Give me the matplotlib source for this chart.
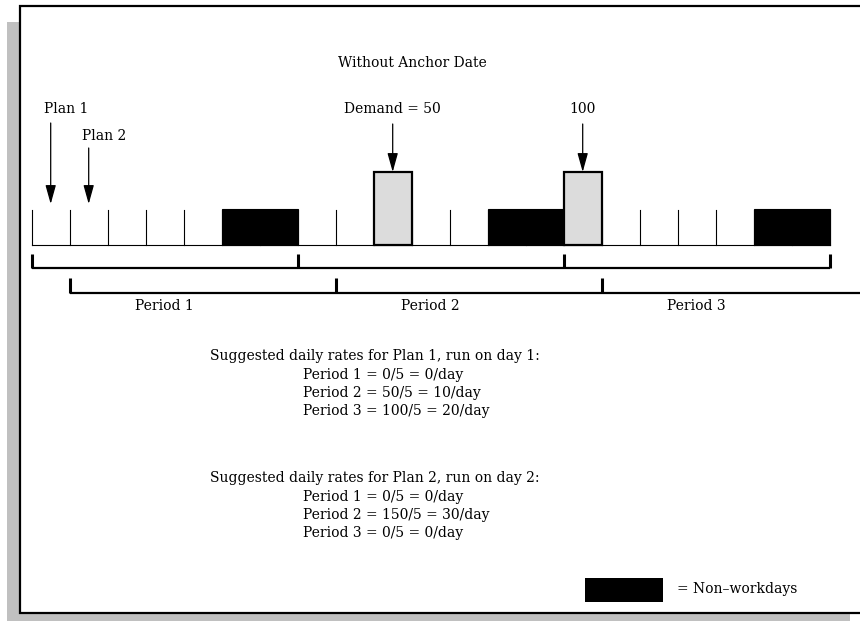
import matplotlib.pyplot as plt
from matplotlib.patches import Rectangle

# ---------- data ----------
n_days = 21
nonwork_start = [5, 12, 19]          # each block = 2 days
nonwork_len = 2
demand_days = [9, 14]
demand_labels = ["Demand = 50", "100"]
plan_days = [0, 1]
plan_labels = ["Plan 1", "Plan 2"]
plan1_bounds = [0, 7, 14, 21]
plan2_bounds = [1, 8, 15, 22.5]
period_names = ["Period 1", "Period 2", "Period 3"]

rates_plan1 = ["Period 1 = 0/5 = 0/day",
               "Period 2 = 50/5 = 10/day",
               "Period 3 = 100/5 = 20/day"]
rates_plan2 = ["Period 1 = 0/5 = 0/day",
               "Period 2 = 150/5 = 30/day",
               "Period 3 = 0/5 = 0/day"]

plt.rcParams['font.family'] = ['DejaVu Serif']
fs = 10

W, H = 860, 621
fig = plt.figure(figsize=(W / 100, H / 100), dpi=100)

# background axes in pixel units: frame, shadow, text
bg = fig.add_axes([0, 0, 1, 1])
bg.set_xlim(0, W)
bg.set_ylim(H, 0)
bg.axis('off')
bg.add_patch(Rectangle((7, 22), 843, 599, facecolor='#c0c0c0', edgecolor='none'))
bg.add_patch(Rectangle((20, 6), 850, 607, facecolor='white', edgecolor='black', lw=1.6))

bg.text(412, 63, "Without Anchor Date", ha='center', va='center', fontsize=fs)

# timeline axes: x in days
day_px = 38.0
x0 = 31.7
ax = fig.add_axes([0, 0, 1, 1])
ax.set_xlim(-x0 / day_px, (W - x0) / day_px)
ax.set_ylim(H, 0)
ax.axis('off')
ax.patch.set_alpha(0)

base_y = 245
ax.plot([0, n_days], [base_y, base_y], color='black', lw=0.8)
for d in range(n_days + 1):
    ax.plot([d, d], [base_y, base_y - 35], color='black', lw=0.8)

for s in nonwork_start:
    ax.add_patch(Rectangle((s, base_y - 36), nonwork_len, 36,
                           facecolor='black', edgecolor='black', lw=0.8, zorder=3))

for d, lab in zip(demand_days, demand_labels):
    ax.add_patch(Rectangle((d, base_y - 73), 1, 73,
                           facecolor='#dcdcdc', edgecolor='black', lw=1.6, zorder=4))
    ax.annotate('', xy=(d + 0.5, base_y - 73), xytext=(d + 0.5, 124),
                arrowprops=dict(arrowstyle='-|>,head_length=1.15,head_width=0.32',
                                color='black', lw=0.9, shrinkA=0, shrinkB=0))
    ax.text(d + 0.5, 109, lab, ha='center', va='center', fontsize=fs)

plan_top = [123, 148]
plan_label_y = [109, 136]
for d, lab, top, ly in zip(plan_days, plan_labels, plan_top, plan_label_y):
    ax.annotate('', xy=(d + 0.5, 204), xytext=(d + 0.5, top),
                arrowprops=dict(arrowstyle='-|>,head_length=1.15,head_width=0.32',
                                color='black', lw=0.9, shrinkA=0, shrinkB=0))
    ax.text(d + 0.9, ly, lab, ha='center', va='center', fontsize=fs)

# period brackets
def bracket(bounds, y, h):
    ax.plot([bounds[0], bounds[-1]], [y, y], color='black', lw=1.6,
            solid_capstyle='butt')
    for b in bounds:
        if b <= n_days + 1:
            ax.plot([b, b], [y, y - h], color='black', lw=2.2, solid_capstyle='butt')

bracket(plan1_bounds, 268, 14)
bracket(plan2_bounds, 293, 15)

for i, name in enumerate(period_names):
    mid = (plan1_bounds[i] + plan1_bounds[i + 1]) / 2
    ax.text(mid, 306, name, ha='center', va='center', fontsize=fs)

# suggested rates
def rate_block(header, lines, y):
    bg.text(375, y, header, ha='center', va='center', fontsize=fs)
    for k, ln in enumerate(lines):
        bg.text(303, y + 18.5 * (k + 1), ln, ha='left', va='center', fontsize=fs)

rate_block("Suggested daily rates for Plan 1, run on day 1:", rates_plan1, 356)
rate_block("Suggested daily rates for Plan 2, run on day 2:", rates_plan2, 478)

# legend
bg.add_patch(Rectangle((585, 578), 78, 24, facecolor='black', edgecolor='none'))
bg.text(677, 589, "= Non\u2013workdays", ha='left', va='center', fontsize=fs)

fig.savefig('out.png', dpi=100)
